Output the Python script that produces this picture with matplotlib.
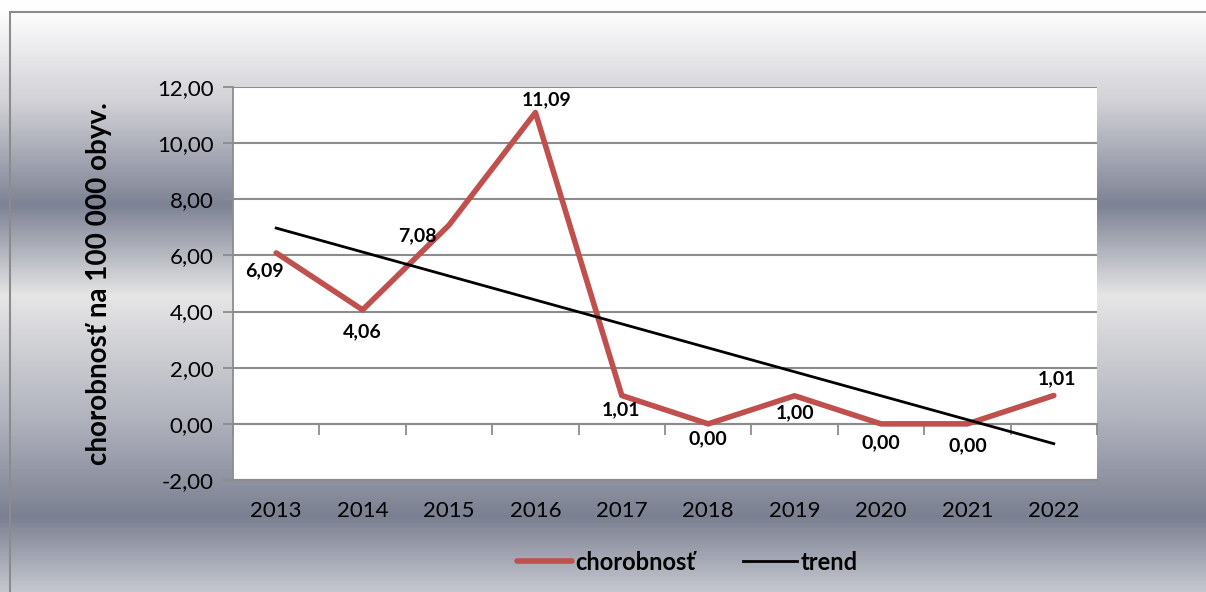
import numpy as np
import matplotlib.pyplot as plt
from matplotlib.colors import LinearSegmentedColormap
from matplotlib.patches import Rectangle

roky = ['2013', '2014', '2015', '2016', '2017', '2018', '2019', '2020', '2021', '2022']
chorobnost = [6.09, 4.06, 7.08, 11.09, 1.01, 0.00, 1.00, 0.00, 0.00, 1.01]
yticks = [-2, 0, 2, 4, 6, 8, 10, 12]

plt.rcParams['font.family'] = ['Lato', 'DejaVu Sans']

x = np.arange(len(roky))
# lineárny trend (ako v Exceli)
k, q = np.polyfit(x, chorobnost, 1)
trend = k * x + q

fig = plt.figure(figsize=(12.06, 5.92), dpi=100)

# pozadie s gradientom
bg = fig.add_axes([0, 0, 1, 1], zorder=-10)
stops = [(0.0, (1, 1, 1)), (0.02, (0.99, 0.99, 0.99)), (0.17, (0.82, 0.82, 0.84)),
         (0.345, (0.49, 0.51, 0.58)), (0.50, (0.90, 0.90, 0.90)),
         (0.71, (0.69, 0.70, 0.74)), (0.875, (0.48, 0.50, 0.57)), (1.0, (0.77, 0.78, 0.81))]
cmap = LinearSegmentedColormap.from_list('bg', stops)
bg.imshow(np.linspace(0, 1, 400).reshape(-1, 1), aspect='auto', cmap=cmap,
          extent=[0, 1, 0, 1], origin='upper')
bg.set_xlim(0, 1)
bg.set_ylim(0, 1)
bg.axis('off')
bg.add_patch(Rectangle((10 / 1206, -0.1), 1.2, 1.1 - 12 / 592, fill=False,
                       edgecolor='#8c8c8c', linewidth=1.5))

ax = fig.add_axes([233 / 1206, 1 - 480 / 592, 864 / 1206, 393 / 592])
ax.set_facecolor('white')

ax.plot(x, chorobnost, color='#C0504D', linewidth=4, solid_capstyle='round',
        solid_joinstyle='round', label='chorobnosť', zorder=3)
ax.plot(x, trend, color='black', linewidth=2, label='trend', zorder=4)

ax.set_xlim(-0.5, len(roky) - 0.5)
ax.set_ylim(-2, 12)
ax.set_yticks(yticks)
ax.set_yticklabels([f'{v:.2f}'.replace('.', ',') for v in yticks], fontsize=16)
ax.set_xticks(x)
ax.set_xticklabels(roky, fontsize=16)
ax.tick_params(axis='x', length=0, pad=15)
ax.tick_params(axis='y', length=7, width=1.3, color='#8c8c8c', pad=7)

ax.grid(axis='y', color='#8c8c8c', linewidth=1.5)
ax.set_axisbelow(True)
for s in ['top', 'right']:
    ax.spines[s].set_visible(False)
ax.spines['left'].set_color('#8c8c8c')
ax.spines['left'].set_linewidth(1.3)
ax.spines['bottom'].set_color('#8c8c8c')
ax.spines['bottom'].set_linewidth(1.5)

# os x s delením kategórií na úrovni 0
sec = ax.secondary_xaxis(2 / 14)
sec.set_xticks(np.arange(len(roky) + 1) - 0.5)
sec.set_xticklabels([])
sec.tick_params(axis='x', direction='out', length=8, width=1.3, color='#8c8c8c')
sec.spines['bottom'].set_color('#8c8c8c')
sec.spines['bottom'].set_linewidth(1.5)

ax.set_ylabel('chorobnosť na 100 000 obyv.', fontsize=20, fontweight='bold', labelpad=32)

# posuny popiskov v pixeloch (dx doprava, dy nahor)
offsets = [(-12, -18), (0, -22), (-32, -11), (11, 13), (-1, -14),
           (0, -15), (0, -17), (0, -19), (0, -22), (3, 17)]
for xi, v, (dx, dy) in zip(x, chorobnost, offsets):
    ax.annotate(f'{v:.2f}'.replace('.', ','), (xi, v), xytext=(dx, dy),
                textcoords='offset pixels', ha='center', va='center',
                fontsize=14, fontweight='bold', zorder=5)

leg = fig.legend(loc='center', bbox_to_anchor=(0.57, 1 - 562 / 592), ncol=2,
                 frameon=False, prop={'size': 17, 'weight': 'bold'},
                 handlelength=2.3, handletextpad=0.15, columnspacing=2.0)

fig.savefig('out.png', dpi=100)
